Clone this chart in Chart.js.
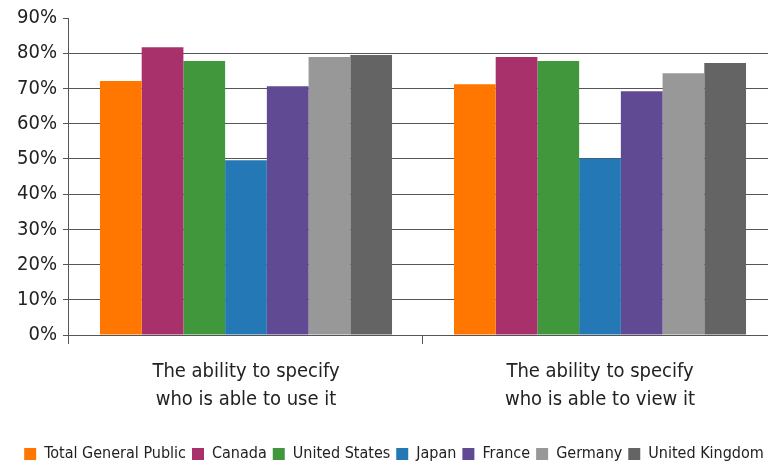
<!DOCTYPE html>
<html>
<head>
<meta charset="utf-8">
<script src="https://cdn.jsdelivr.net/npm/chart.js@4"></script>
<style>
  html, body { margin: 0; padding: 0; background: #fff; overflow: hidden; }
  #wrap { width: 800px; height: 463px; }
</style>
</head>
<body>
<div id="wrap"><canvas id="chart"></canvas></div>
<script>
const categories = [
    ['The ability to specify', 'who is able to use it'],
    ['The ability to specify', 'who is able to view it']
];
const seriesNames = ['Total General Public', 'Canada', 'United States', 'Japan', 'France', 'Germany', 'United Kingdom'];
const seriesColors = ['#ff7700', '#a8316b', '#41983c', '#2378b5', '#604a94', '#989898', '#646464'];
const totalGeneralPublic = [72.1, 71.2];
const canada = [81.7, 78.9];
const unitedStates = [77.8, 77.8];
const japan = [49.6, 50.1];
const france = [70.6, 69.2];
const germany = [78.9, 74.3];
const unitedKingdom = [79.5, 77.2];
const yTicks = [0, 10, 20, 30, 40, 50, 60, 70, 80, 90];

const seriesValues = [totalGeneralPublic, canada, unitedStates, japan, france, germany, unitedKingdom];
const fontFamily = '"Liberation Sans Narrow", "DejaVu Sans Condensed", "Open Sans", sans-serif';

const ctx = document.getElementById('chart').getContext('2d');
new Chart(ctx, {
    type: 'bar',
    data: {
        labels: categories,
        datasets: seriesNames.map((name, i) => ({
            label: name,
            data: seriesValues[i],
            backgroundColor: seriesColors[i],
            borderWidth: 0,
            categoryPercentage: 0.825,
            barPercentage: 1.0
        }))
    },
    options: {
        responsive: true,
        maintainAspectRatio: false,
        animation: false,
        layout: { padding: { top: 9, right: 23, left: 11, bottom: -9 } },
        plugins: {
            tooltip: { enabled: false },
            legend: {
                position: 'bottom',
                labels: {
                    boxWidth: 12,
                    boxHeight: 12,
                    padding: 6,
                    color: '#222',
                    font: { family: fontFamily, size: 16 }
                }
            }
        },
        scales: {
            x: {
                grid: {
                    display: true,
                    offset: true,
                    drawOnChartArea: false,
                    drawTicks: true,
                    tickLength: 9,
                    tickColor: '#555'
                },
                border: { display: true, color: '#555', width: 1 },
                ticks: {
                    color: '#222',
                    padding: 14,
                    font: { family: fontFamily, size: 20, lineHeight: 1.4 }
                },
                afterFit: (axis) => { axis.height = 105; }
            },
            y: {
                min: 0,
                max: 90,
                afterBuildTicks: (axis) => { axis.ticks = yTicks.map(v => ({ value: v })); },
                grid: {
                    color: (c) => c.tick && c.tick.value === 90 ? 'rgba(0,0,0,0)' : '#555',
                    tickColor: '#555',
                    tickLength: 6,
                    lineWidth: 1
                },
                border: { display: true, color: '#555', width: 1 },
                ticks: {
                    color: '#222',
                    padding: 6,
                    font: { family: fontFamily, size: 20 },
                    callback: (v) => v + '%'
                }
            }
        }
    }
});
</script>
</body>
</html>
